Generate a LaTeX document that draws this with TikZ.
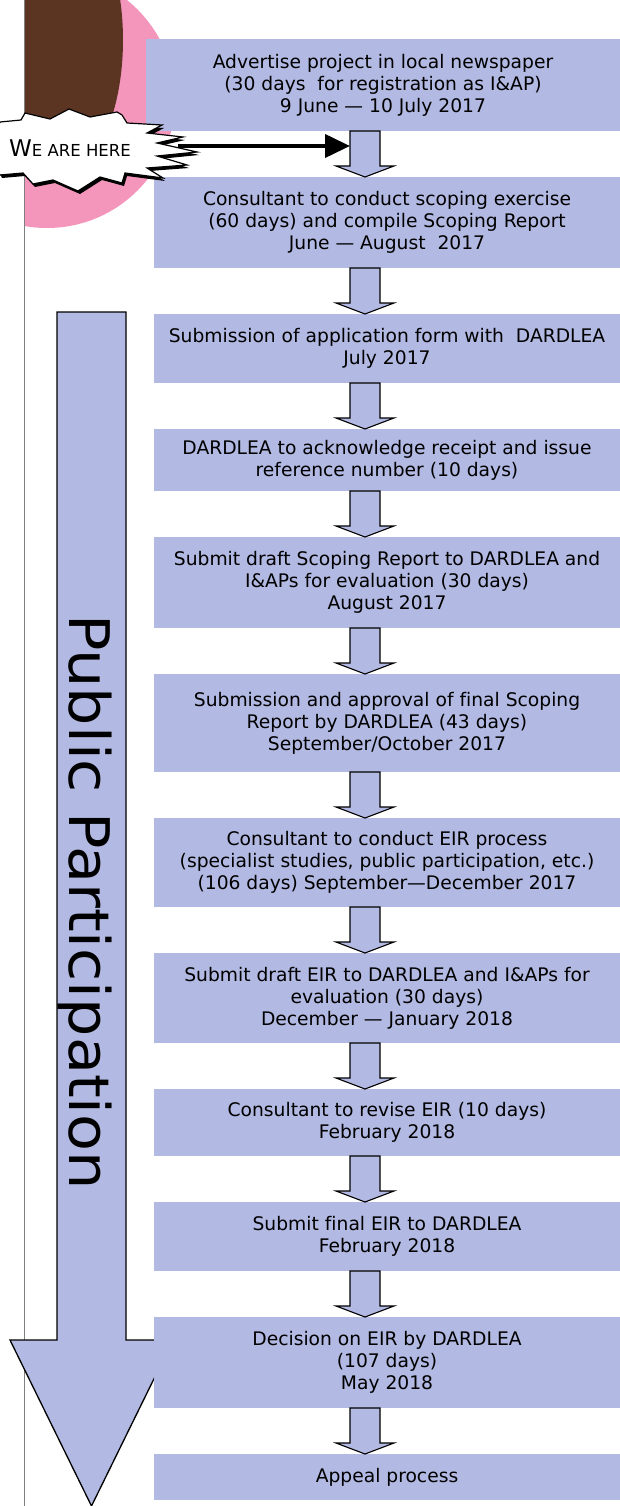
\documentclass[tikz,border=0pt]{standalone}
\usepackage{fontspec}
\setmainfont[Ligatures=NoCommon]{DejaVu Sans}
\newfontfamily\bandfont[FakeStretch=1.08]{DejaVu Sans}
\usetikzlibrary{positioning,arrows.meta,calc}
\definecolor{boxblue}{RGB}{178,185,226}
\definecolor{burstpink}{RGB}{244,149,188}
\definecolor{burstbrown}{RGB}{92,52,34}

\begin{document}
\begin{tikzpicture}[x=1pt,y=-1pt,
	node distance=46pt,
	stepbox/.style={fill=boxblue, minimum width=466pt, inner sep=2pt, outer sep=0pt,
		align=center, font=\fontsize{18.7}{22}\selectfont},
	blockarrow/.style={fill=boxblue, draw=black, line width=1.1pt, line join=miter},
	bigarrow/.style={fill=boxblue, draw=black, line width=1.3pt, line join=miter},
	hereline/.style={line width=4pt, -{Triangle[length=25pt,width=23pt]}}
	]
	% Page
	\fill[white] (0,0) rectangle (620,1506);
	\useasboundingbox (0,0) rectangle (620,1506);

	% Picture in the corner
	\begin{scope}
		\clip (24,0) rectangle (620,1506);
		\fill[burstpink] (47,100) circle (128pt);
		\fill[burstbrown] (55,40) ellipse (68pt and 140pt);
	\end{scope}
	\draw[gray, line width=0.7pt] (24.5,0) -- (24.5,1506);

	% Big arrow
	\draw[bigarrow] (57,312) -- (126,312) -- (126,1340) -- (173,1340) -- (91.5,1506)
		-- (10,1340) -- (57,1340) -- cycle;
	\node[rotate=-90, anchor=base, font=\bandfont\fontsize{56}{56}\selectfont] (pp) at (69,902) {Public Participation};

	% Steps
	\node[stepbox, minimum width=474pt, minimum height=92pt] (b1) at (383,85)
		{Advertise project in local newspaper\\(30 days~ for registration as I\&AP)\\9 June — 10 July 2017};
	\node[stepbox, minimum height=91pt, below=of b1, xshift=4pt] (b2)
		{Consultant to conduct scoping exercise\\(60 days) and compile Scoping Report\\June — August~ 2017};
	\node[stepbox, minimum height=69pt, below=of b2] (b3)
		{Submission of application form with~ DARDLEA\\July 2017};
	\node[stepbox, minimum height=62pt, below=of b3] (b4)
		{DARDLEA to acknowledge receipt and issue\\reference number (10 days)};
	\node[stepbox, minimum height=91pt, below=of b4] (b5)
		{Submit draft Scoping Report to DARDLEA and\\I\&APs for evaluation (30 days)\\August 2017};
	\node[stepbox, minimum height=98pt, below=of b5] (b6)
		{Submission and approval of final Scoping\\Report by DARDLEA (43 days)\\September/October 2017};
	\node[stepbox, minimum height=89pt, below=of b6] (b7)
		{Consultant to conduct EIR process\\(specialist studies, public participation, etc.)\\(106 days) September—December 2017};
	\node[stepbox, minimum height=90pt, below=of b7] (b8)
		{Submit draft EIR to DARDLEA and I\&APs for\\evaluation (30 days)\\December — January 2018};
	\node[stepbox, minimum height=67pt, below=of b8] (b9)
		{Consultant to revise EIR (10 days)\\February 2018};
	\node[stepbox, minimum height=69pt, below=of b9] (b10)
		{Submit final EIR to DARDLEA\\February 2018};
	\node[stepbox, minimum height=91pt, below=of b10] (b11)
		{Decision on EIR by DARDLEA\\(107 days)\\May 2018};
	\node[stepbox, minimum height=46pt, below=of b11] (b12)
		{Appeal process};

	% Block arrows between steps
	\foreach \a/\b in {b1/b2,b2/b3,b3/b4,b4/b5,b5/b6,b6/b7,b7/b8,b8/b9,b9/b10,b10/b11,b11/b12}
		\draw[blockarrow] let \p1=(\a.south), \p2=(\b.north) in
			(350pt,\y1) -- (380pt,\y1) -- (380pt,\y2+11pt) -- (394pt,\y2+11pt) -- (365pt,\y2)
			-- (336pt,\y2+11pt) -- (350pt,\y2+11pt) -- cycle;

	% We are here
	\begin{scope}[shift={(2,3)}]
		\fill[black] (0,122) -- (21,120) -- (25,113) -- (50,119) -- (69,109) -- (90,117)
			-- (117,112) -- (122,115) -- (127,123) -- (162,125) -- (147,133) -- (183,137)
			-- (157,143) -- (197,152) -- (157,156) -- (187,165) -- (147,168) -- (163,178)
			-- (125,173) -- (122,183) -- (100,177) -- (78,191) -- (53,180) -- (33,184)
			-- (23,173) -- (0,175) -- (-12,150) -- cycle;
	\end{scope}
	\draw[fill=white, line width=1.2pt, line join=miter] (0,122) -- (21,120) -- (25,113) -- (50,119)
		-- (69,109) -- (90,117) -- (117,112) -- (122,115) -- (127,123) -- (162,125) -- (147,133)
		-- (183,137) -- (157,143) -- (197,152) -- (157,156) -- (187,165) -- (147,168) -- (163,178)
		-- (125,173) -- (122,183) -- (100,177) -- (78,191) -- (53,180) -- (33,184) -- (23,173)
		-- (0,175) -- (-12,150) -- cycle;
	\node (here) at (70,148.5) {\fontsize{23}{23}\selectfont W\fontsize{16.5}{16.5}\selectfont E ARE HERE};
	\coordinate (burst) at (178,146);
	\coordinate (pointer) at (350,146);
	\draw[hereline] (burst) -- (pointer);
\end{tikzpicture}
\end{document}
